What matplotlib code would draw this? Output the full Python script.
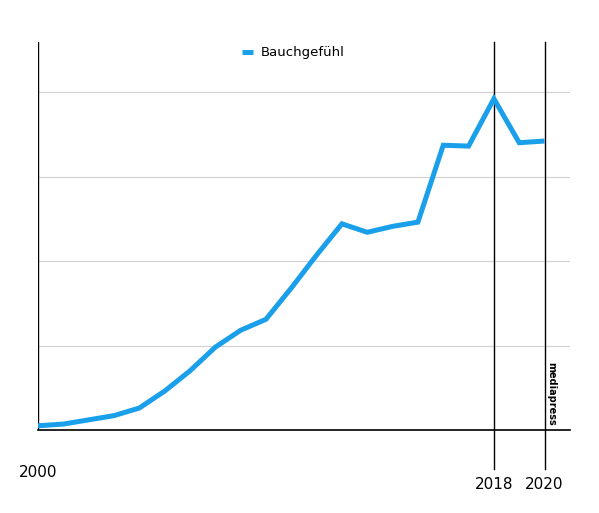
import matplotlib.pyplot as plt

years = list(range(2000, 2021))
values = [0.05, 0.07, 0.12, 0.17, 0.26, 0.46, 0.70, 0.98, 1.18, 1.31, 1.68,
          2.07, 2.44, 2.34, 2.41, 2.46, 3.37, 3.36, 3.92, 3.40, 3.42]
label_years = [2000, 2018, 2020]
grid_levels = [1, 2, 3, 4]

fig = plt.figure(figsize=(5.99, 5.13), dpi=100)
ax = fig.add_axes([0.0634, 0.1618, 0.888, 0.756])

for g in grid_levels:
    ax.axhline(g, color="#d0d0d0", linewidth=0.8, zorder=0)
ax.axhline(0, color="black", linewidth=1.2, clip_on=False, zorder=2)

ax.plot(years, values, color="#1a9fea", linewidth=3.6, label="Bauchgefühl",
        solid_capstyle="butt", solid_joinstyle="miter", zorder=3)

ax.axvline(2000, color="black", linewidth=1)
for y in label_years[1:]:
    ax.axvline(y, ymin=-0.1, ymax=1, color="black", linewidth=1, clip_on=False)

ax.set_xlim(2000, 2021)
ax.set_ylim(0, 4.59)
ax.set_xticks([])
ax.set_yticks([])
for s in ax.spines.values():
    s.set_visible(False)

ax.text(2000, -0.5, "2000", ha="center", va="center", fontsize=11)
ax.text(2018, -0.65, "2018", ha="center", va="center", fontsize=11)
ax.text(2020, -0.65, "2020", ha="center", va="center", fontsize=11)
ax.text(2020.25, 0.05, "mediapress", rotation=270, fontsize=7, fontweight="bold",
        ha="center", va="bottom")

ax.legend(loc="upper center", bbox_to_anchor=(0.48, 1.02), frameon=False,
          fontsize=9.5, handlelength=0.8, handletextpad=0.6)

fig.savefig("out.png")
